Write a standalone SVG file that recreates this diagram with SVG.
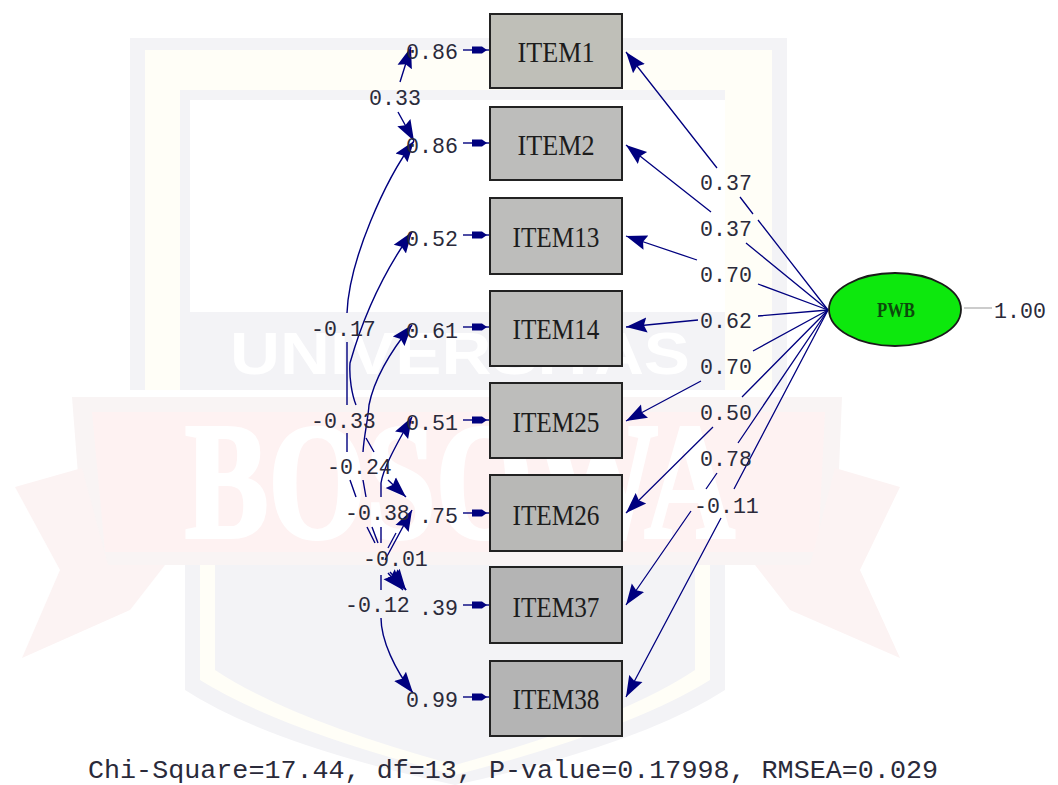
<svg xmlns="http://www.w3.org/2000/svg" width="1058" height="785" viewBox="0 0 1058 785">
<style>
.box{fill:#bdbdbb;stroke:#222;stroke-width:2}
.nm{font-family:"Liberation Serif",serif;font-size:29px;fill:#1c1c1c;text-anchor:middle}
.v{font-family:"Liberation Mono",monospace;font-size:21.6px;fill:#2a2a3a}
.c{fill:none;stroke:#00007f;stroke-width:1.4;marker-start:url(#h);marker-end:url(#h)}
.l{fill:none;stroke:#00007f;stroke-width:1.3;marker-start:url(#h)}
.e{fill:none;stroke:#00007f;stroke-width:1.4;marker-start:url(#eh)}
.wg{fill:#f3f3f6}.wy{fill:#fffef7}.wr{fill:#fef2f2}.ww{fill:#fff}
</style>
<defs>
<marker id="h" markerUnits="userSpaceOnUse" markerWidth="24" markerHeight="18" refX="21" refY="9" orient="auto-start-reverse"><path d="M21,9L0,1.500L3,9L0,16.500Z" fill="#00007f"/></marker>
<marker id="eh" markerUnits="userSpaceOnUse" markerWidth="24" markerHeight="10" refX="22" refY="5" orient="auto-start-reverse"><path d="M20,5L15,1.500H5V8.500H15Z" fill="#00007f"/></marker>
</defs>
<rect width="1058" height="785" fill="#fff"/>
<g id="watermark">
<rect class="wg" x="130" y="38" width="657" height="352"/>
<rect class="wy" x="145" y="50" width="627" height="340"/>
<rect class="wg" x="180" y="90" width="545" height="300"/>
<rect class="ww" x="190" y="100" width="535" height="212"/>
<text x="460" y="374" font-family="Liberation Sans,sans-serif" font-weight="bold" font-size="60" fill="#fff" text-anchor="middle" textLength="460" lengthAdjust="spacingAndGlyphs">UNIVERSITAS</text>
<path class="wg" d="M185,565H725V690Q640,745 455,785Q270,745 185,690Z"/>
<path class="wy" d="M200,565H710V680Q630,730 455,775Q280,730 200,680Z"/>
<path class="wg" d="M215,565H695V670Q620,720 455,765Q290,720 215,670Z"/>
<path fill="#f9f4f4" d="M72,397H842L835,565H85Z"/>
<path class="wr" d="M92,412H825L818,552H105Z"/>
<path fill="#fcf3f3" d="M15,487L82,468L108,565L165,565L130,610L22,658L60,570Z"/>
<path fill="#fcf3f3" d="M900,487L835,468L810,565L755,565L790,610L900,658L860,570Z"/>
<text x="460" y="537" font-family="Liberation Serif,serif" font-weight="bold" font-size="165" fill="#fff" stroke="#fff" stroke-width="4" text-anchor="middle" textLength="550" lengthAdjust="spacingAndGlyphs">BOSOWA</text>
</g>
<g id="connectors">
<path class="l" d="M626,52L717,168M740,197L753,214M758,220L828,310"/>
<path class="l" d="M626,145L711,212M746,243L828,310"/>
<path class="l" d="M626,236L697,260M758,284L828,310"/>
<path class="l" d="M626,327L698,320M758,316L828,310"/>
<path class="l" d="M626,421L701,381M753,351L828,310"/>
<path class="l" d="M626,513L713,427M742,397L828,310"/>
<path class="l" d="M626,605L691,511M706,489L717,473M738,443L828,310"/>
<path class="l" d="M626,697L721,518M734,489L828,310"/>
<path class="e" d="M489,50H463"/><path class="e" d="M489,143H463"/><path class="e" d="M489,235H463"/><path class="e" d="M489,327H463"/><path class="e" d="M489,420H463"/><path class="e" d="M489,513H463"/><path class="e" d="M489,605H463"/><path class="e" d="M489,697H463"/>
<path class="c" d="M411,47L400,82M398,112L414,141"/>
<path class="c" d="M414,141C385,180 349,260 347,313M347,342V405M347,433V452M350,480L356,497M367,527L375,543M390,572L406,590"/>
<path class="c" d="M412,232C385,270 365,310 350,363C349,378 352,395 356,405M366,438L374,452M388,480L406,497"/>
<path class="c" d="M412,325C385,358 373,385 369,405C368,420 364,435 363,452M363,480L366,497M372,527L378,543M395,575L406,590"/>
<path class="c" d="M412,417C392,452 383,470 381,483V497M381,527V543M388,573L403,590"/>
<path class="c" d="M412,510L385,560M381,575V590M381,618C381,640 395,670 413,693"/>
<path fill="none" stroke="#00007f" stroke-width="1.300" d="M396,533L388,548"/>
<path fill="none" stroke="#bbb" stroke-width="1.500" d="M964,308H992"/>
</g>
<g id="ITEM1"><rect class="box" x="490" y="14" width="132" height="74" style="fill:#bfbfb8"/><text class="nm" x="556" y="62" textLength="77" lengthAdjust="spacingAndGlyphs">ITEM1</text><text class="v" x="406" y="59">0.86</text></g>
<g id="ITEM2"><rect class="box" x="490" y="107" width="132" height="73"/><text class="nm" x="556" y="155" textLength="77" lengthAdjust="spacingAndGlyphs">ITEM2</text><text class="v" x="406" y="153">0.86</text></g>
<g id="ITEM13"><rect class="box" x="490" y="198" width="132" height="76"/><text class="nm" x="556" y="247" textLength="87" lengthAdjust="spacingAndGlyphs">ITEM13</text><text class="v" x="406" y="246">0.52</text></g>
<g id="ITEM14"><rect class="box" x="490" y="291" width="132" height="75"/><text class="nm" x="556" y="339" textLength="87" lengthAdjust="spacingAndGlyphs">ITEM14</text><text class="v" x="406" y="338">0.61</text></g>
<g id="ITEM25"><rect class="box" x="490" y="383" width="132" height="75"/><text class="nm" x="556" y="432" textLength="87" lengthAdjust="spacingAndGlyphs">ITEM25</text><text class="v" x="406" y="430">0.51</text></g>
<g id="ITEM26"><rect class="box" x="490" y="475" width="132" height="76" style="fill:#b8b8b6"/><text class="nm" x="556" y="525" textLength="87" lengthAdjust="spacingAndGlyphs">ITEM26</text><text class="v" x="419" y="523">.75</text></g>
<g id="ITEM37"><rect class="box" x="490" y="567" width="132" height="76" style="fill:#b4b4b4"/><text class="nm" x="556" y="617" textLength="87" lengthAdjust="spacingAndGlyphs">ITEM37</text><text class="v" x="419" y="615">.39</text></g>
<g id="ITEM38"><rect class="box" x="490" y="661" width="132" height="75" style="fill:#b4b4b4"/><text class="nm" x="556" y="709" textLength="87" lengthAdjust="spacingAndGlyphs">ITEM38</text><text class="v" x="406" y="707">0.99</text></g>
<g id="PWB"><ellipse cx="895" cy="309.500" rx="66" ry="36.500" fill="#0de80d" stroke="#1a1a1a" stroke-width="1.800"/><text x="896" y="317" font-family="Liberation Serif,serif" font-size="22" font-weight="bold" fill="#0c4a0c" text-anchor="middle" textLength="38" lengthAdjust="spacingAndGlyphs">PWB</text><text class="v" x="994" y="318">1.00</text></g>
<g id="labels">
<text class="v" x="700" y="190">0.37</text><text class="v" x="700" y="236">0.37</text><text class="v" x="700" y="282">0.70</text><text class="v" x="700" y="328">0.62</text><text class="v" x="700" y="374">0.70</text><text class="v" x="700" y="420">0.50</text><text class="v" x="700" y="466">0.78</text><text class="v" x="694" y="513">-0.11</text>
<text class="v" x="369" y="105">0.33</text><text class="v" x="311" y="336">-0.17</text><text class="v" x="311" y="428">-0.33</text><text class="v" x="327" y="474">-0.24</text><text class="v" x="345" y="520">-0.38</text><text class="v" x="363" y="566">-0.01</text><text class="v" x="345" y="612">-0.12</text>
<text x="88" y="778" font-family="Liberation Mono,monospace" font-size="26.700" fill="#2a2a3a" textLength="850" lengthAdjust="spacingAndGlyphs">Chi-Square=17.44, df=13, P-value=0.17998, RMSEA=0.029</text>
</g>
</svg>
